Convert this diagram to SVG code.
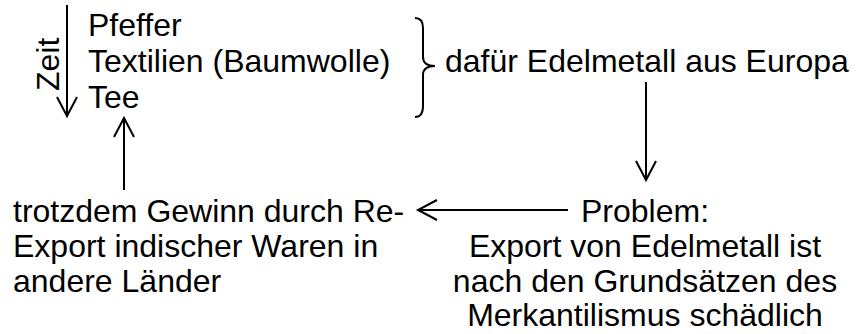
<svg xmlns="http://www.w3.org/2000/svg" width="864" height="334" viewBox="0 0 864 334">
<style>
text{font-family:"Liberation Sans",Arial,sans-serif;font-size:32px;fill:#000}
.ln{stroke:#000;stroke-width:2;fill:none}
.mid{text-anchor:middle}
</style>
<defs>
<marker id="ah" viewBox="0 0 24 24" refX="20" refY="12" markerWidth="24" markerHeight="24" markerUnits="userSpaceOnUse" orient="auto">
<path d="M1,2 L20,12 L1,22" fill="none" stroke="#000" stroke-width="2"/>
</marker>
</defs>
<rect width="864" height="334" fill="#fff"/>
<g id="goods">
<text x="88" y="36">Pfeffer</text>
<text x="88" y="72">Textilien (Baumwolle)</text>
<text x="88" y="108">Tee</text>
</g>
<g id="time">
<text transform="translate(59,91) rotate(-90)">Zeit</text>
</g>
<g id="brace">
<path class="ln" d="M415,18 Q423,18 423,28 L423,57 Q423,66 435,66 Q423,66 423,75 L423,106 Q423,117 415,117"/>
</g>
<g id="edelmetall">
<text x="445" y="72">dafür Edelmetall aus Europa</text>
</g>
<g id="problem">
<text class="mid" x="645" y="222">Problem:</text>
<text class="mid" x="645" y="257">Export von Edelmetall ist</text>
<text class="mid" x="645" y="292">nach den Grundsätzen des</text>
<text class="mid" x="645" y="326">Merkantilismus schädlich</text>
</g>
<g id="gewinn">
<text x="13" y="222">trotzdem Gewinn durch Re-</text>
<text x="13" y="257">Export indischer Waren in</text>
<text x="13" y="292">andere Länder</text>
</g>
<g id="connectors">
<line class="ln" x1="67" y1="5" x2="67" y2="116" marker-end="url(#ah)"/>
<line class="ln" x1="646" y1="82" x2="646" y2="180" marker-end="url(#ah)"/>
<line class="ln" x1="568" y1="210" x2="418" y2="210" marker-end="url(#ah)"/>
<line class="ln" x1="124" y1="190" x2="124" y2="118" marker-end="url(#ah)"/>
</g>
</svg>
